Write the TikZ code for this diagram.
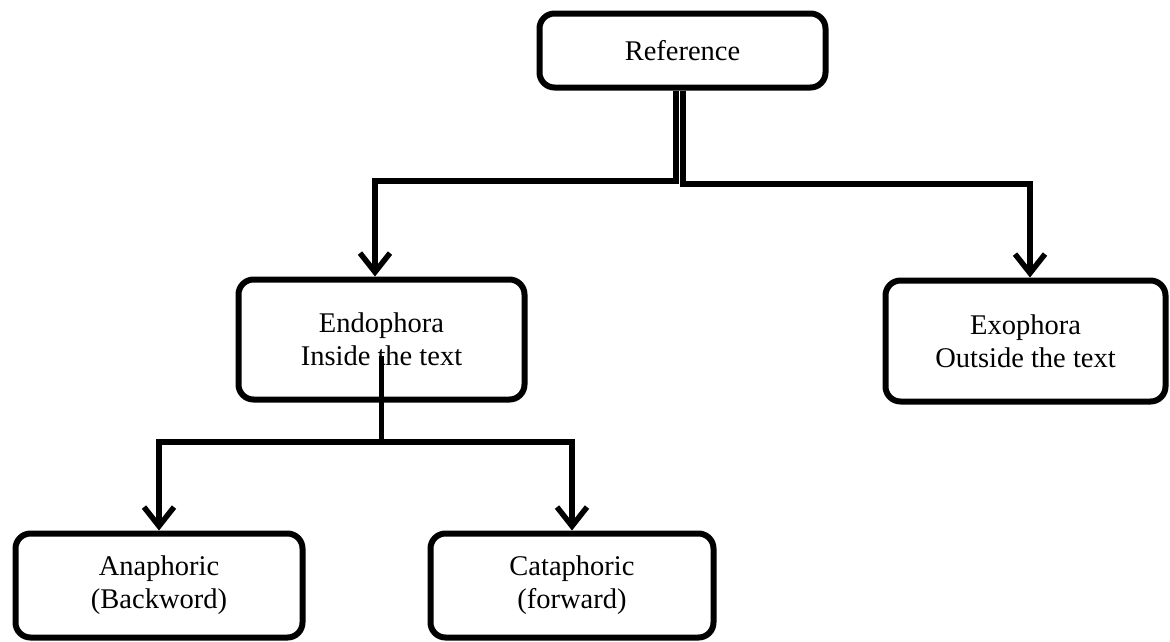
\documentclass[tikz,border=0pt]{standalone}
\usepackage{fontspec}
\setmainfont{Liberation Serif}
\usetikzlibrary{arrows.meta}
\begin{document}
\begin{tikzpicture}[x=1pt,y=-1pt,
  box/.style={draw=black,line width=6pt,rounded corners=15pt,fill=white,
    align=center,inner sep=0pt,
    font=\fontsize{28.5}{33}\selectfont},
  link/.style={draw=black,line width=5.5pt},
  arr/.style={link,-{Straight Barb[length=19pt,width=30pt,line width=5.5pt]}}]
\useasboundingbox (0,0) rectangle (1170,641);

% boxes
\node[box,minimum width=286pt,minimum height=74pt] (ref) at (682.5,50.5) {\raisebox{-3pt}{Reference}};
\node[box,minimum width=286pt,minimum height=120pt] (endo) at (381.5,339.5) {Endophora\\Inside the text};
\node[box,minimum width=280pt,minimum height=121pt] (exo) at (1025.5,341) {Exophora\\Outside the text};
\node[box,minimum width=287pt,minimum height=104pt] (ana) at (159,585.5) {Anaphoric\\(Backword)};
\node[box,minimum width=283pt,minimum height=104pt] (cata) at (572,585.5) {Cataphoric\\(forward)};

% Reference splits into two branches
\coordinate (refL) at ([xshift=-6.5pt]ref.south);
\coordinate (refR) at ([xshift=0.5pt]ref.south);
\draw[arr] (refL) -- (refL |- 0,181) -| ([xshift=-6.5pt]endo.north);
\draw[arr] (refR) -- (refR |- 0,184) -| ([xshift=4.5pt]exo.north);

% Endophora branches into anaphoric / cataphoric
\coordinate (stem) at ([yshift=-16pt]endo.center);
\coordinate (fork) at (stem |- 0,442);
\draw[link] (stem) -- (fork);
\draw[arr] (fork) -| (ana.north);
\draw[arr] (fork) -| (cata.north);
\end{tikzpicture}
\end{document}
